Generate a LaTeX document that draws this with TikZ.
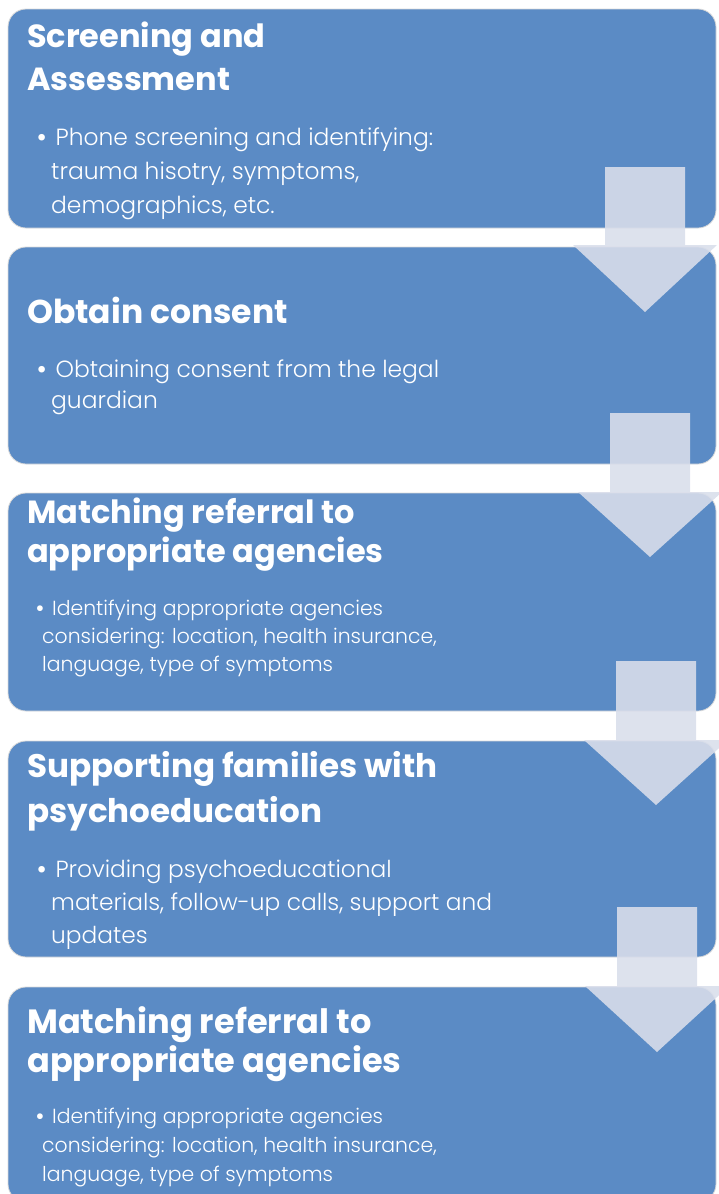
\documentclass[tikz,border=0pt]{standalone}
\usepackage{fontspec}
\setmainfont{Poppins}
\newfontfamily\lightfont{Poppins Light}
\usepackage{tikz}
\usetikzlibrary{calc}

\definecolor{stepblue}{RGB}{91,139,197}
\definecolor{arrowfill}{RGB}{217,222,235}

% block arrow: centre x, shaft top, head base, tip
\newcommand{\blockarrow}[4]{\fill[arrowfill, fill opacity=0.89] ( #1 - 40 , #2 ) -- ( #1 + 40 , #2 ) -- ( #1 + 40 , #3 ) -- ( #1 + 72 , #3 ) -- ( #1 , #4 ) -- ( #1 - 72 , #3 ) -- ( #1 - 40 , #3 ) -- cycle;}
\newcommand{\cont}{\hspace*{15pt}}
\newcommand{\bul}{{\bfseries\textbullet}\hspace{0.35em}}

% nodes sit on the baseline of their last line
\tikzset{
  stepbox/.style={fill=stepblue, draw=black!15, line width=0.8pt, rounded corners=18pt},
  steptitle/.style 2 args={anchor=base west, inner sep=0pt, text=white, align=left, font=\bfseries\fontsize{#1}{#2}\selectfont},
  stepbody/.style 2 args={anchor=base west, inner sep=0pt, text=white, align=left, font=\lightfont\fontsize{#1}{#2}\selectfont}
}

\begin{document}
\begin{tikzpicture}[x=1pt, y=-1pt]
    \useasboundingbox (0,0) rectangle (719,1194);
    % the five steps
    \draw[stepbox] (8,9) rectangle (716,228);
    \draw[stepbox] (8,247) rectangle (716,464);
    \draw[stepbox] (8,493) rectangle (716,711);
    \draw[stepbox] (8,741) rectangle (716,957);
    \draw[stepbox] (8,987) rectangle (716,1202);

    \node[steptitle={32}{43}] (t1) at (27,90) {Screening and\\Assessment};
    \node[stepbody={23.4}{34}] (b1) at (36,213) {\bul Phone screening and identifying:\\\cont trauma hisotry, symptoms,\\\cont demographics, etc.};

    \node[steptitle={33}{43}] (t2) at (27,323) {Obtain consent};
    \node[stepbody={23.4}{31}] (b2) at (36,408) {\bul Obtaining consent from the legal\\\cont guardian};

    \node[steptitle={32}{39}] (t3) at (27,562) {Matching referral to\\appropriate agencies};
    \node[stepbody={20.4}{28}] (b3) at (35,671) {\bul Identifying appropriate agencies\\\hspace*{7pt}considering: location, health insurance,\\\hspace*{7pt}language, type of symptoms};

    \node[steptitle={32.6}{45}] (t4) at (27,822) {Supporting families with\\psychoeducation};
    \node[stepbody={23.3}{33}] (b4) at (36,943) {\bul Providing psychoeducational\\\cont materials, follow-up calls, support and\\\cont updates};

    \node[steptitle={33.6}{39}] (t5) at (27,1072) {Matching referral to\\appropriate agencies};
    \node[stepbody={20.4}{29}] (b5) at (35,1181) {\bul Identifying appropriate agencies\\\hspace*{7pt}considering: location, health insurance,\\\hspace*{7pt}language, type of symptoms};

    % arrows between the steps
    \blockarrow{645}{167}{245}{312}
    \blockarrow{650}{413}{492}{557}
    \blockarrow{656}{661}{740}{805}
    \blockarrow{657}{907}{986}{1052}
\end{tikzpicture}
\end{document}
